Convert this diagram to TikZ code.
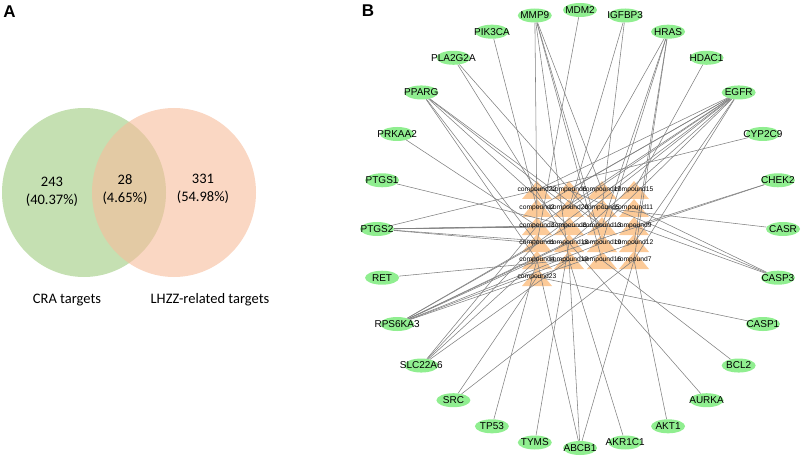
\documentclass[tikz,border=0pt]{standalone}
\usepackage{fontspec}
\setmainfont{Liberation Sans}
\newfontfamily\vennfont{Carlito}
\usetikzlibrary{shapes}
\usetikzlibrary{positioning}
\definecolor{cragreen}{RGB}{197,224,178}
\definecolor{lhzzorange}{RGB}{247,188,155}
\definecolor{genegreen}{RGB}{144,238,144}
\definecolor{cpdorange}{RGB}{252,202,152}
\definecolor{linkgray}{RGB}{128,128,128}
\tikzset{
  gene/.style={ellipse, fill=genegreen, inner sep=0pt, minimum width=34pt, minimum height=14pt, font=\fontsize{10}{10}\selectfont},
  cpd/.style={inner sep=0pt, font=\fontsize{6.7}{6.7}\selectfont},
  link/.style={draw=linkgray, line width=0.55pt},
  venntext/.style={align=center, font=\vennfont\fontsize{14.5}{18}\selectfont},
  panel/.style={inner sep=0pt, font=\bfseries\fontsize{17}{17}\selectfont}
}
\begin{document}
\begin{tikzpicture}[x=1pt,y=-1pt]
\useasboundingbox (0,0) rectangle (803,457);

% A
\node[panel] (pa) at (9.5,12) {A};
\fill[cragreen] (84,192.5) ellipse [x radius=82pt, y radius=84.5pt];
\fill[lhzzorange, fill opacity=0.6] (174,192.5) ellipse [x radius=82pt, y radius=84.5pt];
\node[venntext] (n243) at (52,192) {243\\(40.37\%)};
\node[venntext] (n28) at (125,190) {28\\(4.65\%)};
\node[venntext] (n331) at (203,189) {331\\(54.98\%)};
\node[venntext] (cra) at (67,300) {CRA targets};
\node[venntext] (lhzz) at (210,300) {LHZZ-related targets};

% B
\node[panel] (pb) at (368,11) {B};
\foreach \g [count=\i from 0] in {MDM2,IGFBP3,HRAS,HDAC1,EGFR,CYP2C9,CHEK2,CASR,CASP3,CASP1,BCL2,AURKA,AKT1,AKR1C1,ABCB1,TYMS,TP53,SRC,SLC22A6,RPS6KA3,RET,PTGS2,PTGS1,PRKAA2,PPARG,PLA2G2A,PIK3CA,MMP9}
  \node[gene] (\g) at ({580+203*cos(90-\i*360/28)},{229-219*sin(90-\i*360/28)}) {\makebox[0pt]{\g}};

\foreach \c/\x/\y in {22/537/190, 6/569/190, 17/602/190, 15/634/190,
                      2/537/208, 20/569/208, 5/602/208, 11/634/208,
                      3/537/226, 8/569/226, 13/602/226, 9/634/226,
                      1/537/243, 18/569/243, 19/602/243, 12/634/243,
                      4/537/260, 10/569/260, 16/602/260, 7/634/260,
                      23/537/277}
{
  \coordinate (c\c) at (\x,\y);
  \fill[cpdorange] (c\c) ++(-15,9) -- ++(15,-18) -- ++(15,18) -- cycle;
}

\foreach \g/\c in {MDM2/1, IGFBP3/20, IGFBP3/5,
  HRAS/20, HRAS/13, HRAS/19, HRAS/12, HRAS/7, HDAC1/15,
  EGFR/22, EGFR/6, EGFR/2, EGFR/20, EGFR/3, EGFR/8, EGFR/1, EGFR/18, EGFR/13, EGFR/12, EGFR/7,
  CYP2C9/22, CHEK2/9, CHEK2/4, CASR/5, CASP3/9, CASP3/6, CASP3/11,
  CASP1/23, BCL2/16, AURKA/18, AKT1/7, AKR1C1/10,
  ABCB1/4, ABCB1/10, ABCB1/7, TYMS/18, TP53/4, SRC/23, SRC/7,
  SLC22A6/3, SLC22A6/1, SLC22A6/4, SLC22A6/10,
  RPS6KA3/4, RPS6KA3/1, RPS6KA3/18, RPS6KA3/10, RPS6KA3/19, RPS6KA3/13, RPS6KA3/12, RPS6KA3/8,
  RET/10, PTGS2/22, PTGS2/3, PTGS2/8, PTGS2/13, PTGS2/1, PTGS2/18, PTGS2/9,
  PTGS1/8, PRKAA2/3, PPARG/1, PPARG/4, PPARG/8, PPARG/13, PPARG/20,
  PLA2G2A/18, PLA2G2A/13, PIK3CA/2,
  MMP9/3, MMP9/16, MMP9/19, MMP9/10, MMP9/17}
  \draw[link] (\g) -- (c\c);

\foreach \c in {22,6,17,15,2,20,5,11,3,8,13,9,1,18,19,12,4,10,16,7,23}
  \node[cpd] (cpd\c) at (c\c) {compound\c};
\end{tikzpicture}
\end{document}
